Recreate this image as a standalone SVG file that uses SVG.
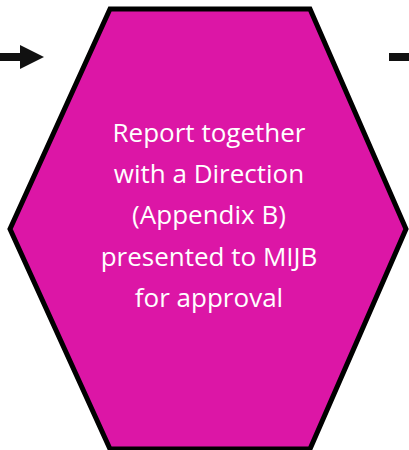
<svg xmlns="http://www.w3.org/2000/svg" width="409" height="450" viewBox="0 0 409 450">
<style>
.hex{fill:#DC16A6;stroke:#000;stroke-width:5;stroke-linejoin:miter}
.lbl{font-family:"Open Sans","Liberation Sans",sans-serif;font-size:26px;fill:#fff;text-anchor:middle}
.conn{stroke:#111;stroke-width:8;fill:none}
</style>
<defs>
<marker id="ah" markerWidth="3" markerHeight="3" refX="0" refY="1.5" orient="auto" markerUnits="strokeWidth">
<path d="M0,0 L3,1.5 L0,3 Z" fill="#111"/>
</marker>
</defs>
<g id="connectors">
<path class="conn" d="M0,57 L20,57" marker-end="url(#ah)"/>
<path class="conn" d="M389,57 L409,57"/>
</g>
<g id="node-report">
<polygon class="hex" points="110,9 310,9 406,229 310,449 110,449 10,229"/>
<text class="lbl" x="209" y="142">Report together</text>
<text class="lbl" x="209" y="183">with a Direction</text>
<text class="lbl" x="209" y="224">(Appendix B)</text>
<text class="lbl" x="209" y="266">presented to MIJB</text>
<text class="lbl" x="209" y="307">for approval</text>
</g>
</svg>
